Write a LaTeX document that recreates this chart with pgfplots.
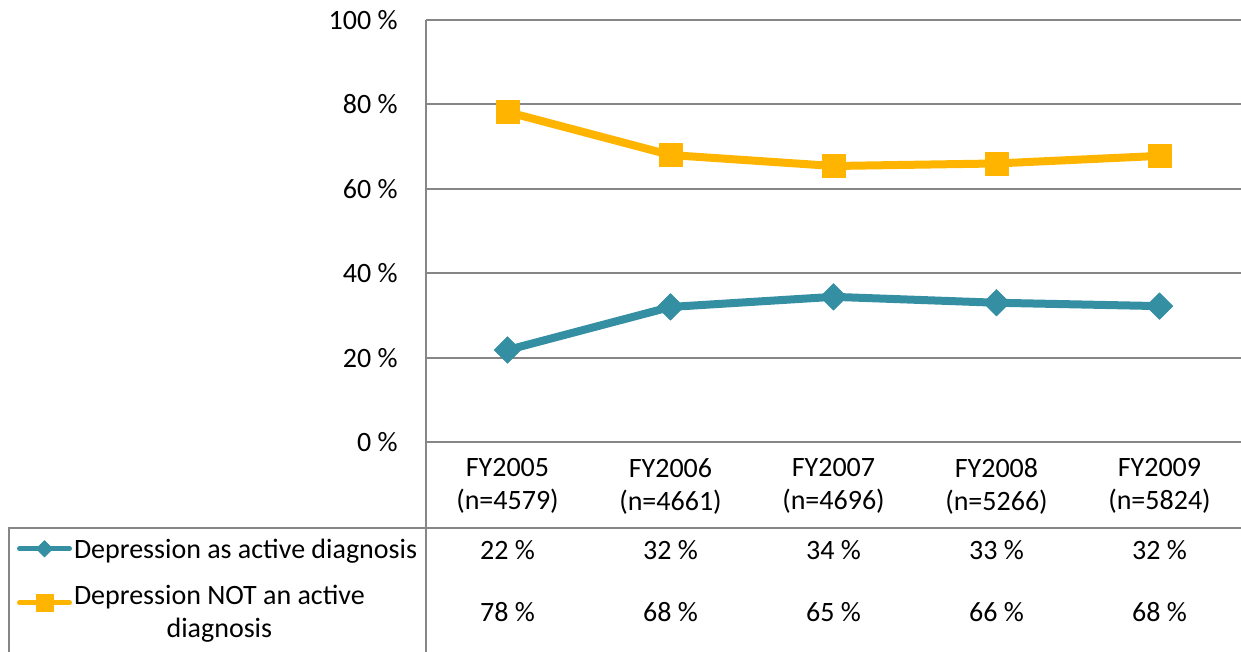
\documentclass[border=0pt]{standalone}
\usepackage{fontspec}
\setmainfont{Carlito}
\usepackage{pgfplots}
\pgfplotsset{compat=1.18}
\definecolor{dteal}{RGB}{53,143,163}
\definecolor{dgold}{RGB}{255,181,0}
\definecolor{gridgray}{RGB}{134,134,134}
\pgfplotsset{
  tealleg/.style={legend image code/.code={\draw[##1, line width=2.5pt, line cap=round, mark size=2.9pt, mark repeat=2, mark phase=2] plot coordinates {(1.25pt,0pt) (13.75pt,0pt) (26.25pt,0pt)};}},
  goldleg/.style={legend image code/.code={\path (0pt,-26.75pt); \draw[##1, line width=2.5pt, line cap=round, mark size=4.25pt, mark repeat=2, mark phase=2] plot coordinates {(1.25pt,0pt) (13.75pt,0pt) (26.25pt,0pt)};}},
}
\begin{document}
\begin{tikzpicture}[font=\fontsize{14}{16.5}\selectfont]
\path[use as bounding box] (-213pt,-105pt) rectangle (407.5pt,221pt);
\begin{axis}[
  at={(0,0)}, anchor=south west,
  scale only axis, width=407.5pt, height=211pt,
  xmin=-0.5, xmax=4.5, ymin=0, ymax=100,
  axis line style={draw=none},
  major tick length=0pt,
  ytick={0,20,...,100},
  yticklabels={0 \%,20 \%,40 \%,60 \%,80 \%,100 \%},
  yticklabel style={inner sep=0pt, xshift=-14pt},
  xtick={0,1,2,3,4},
  xticklabels={{FY2005\\(n=4579)},{FY2006\\(n=4661)},{FY2007\\(n=4696)},{FY2008\\(n=5266)},{FY2009\\(n=5824)}},
  xticklabel style={align=center, inner sep=0pt, yshift=-8pt},
  ymajorgrids, grid style={gridgray, line width=1pt},
  clip=false,
  legend cell align=left,
  legend style={at={(-0.50675,-0.22156)}, anchor=north west, draw=none, fill=none,
    inner sep=0pt, outer sep=0pt, row sep=9.5pt, column sep=1pt, nodes={inner sep=0pt}},
]
\addplot[tealleg, color=dteal, line width=4pt, line join=round, mark=square*, mark size=4.7pt,
  mark options={rotate=45, line width=0.3pt, fill=dteal}]
coordinates {(0,21.8) (1,32.0) (2,34.4) (3,33.0) (4,32.2)};
\addlegendentry{{\begin{tabular}{@{}l@{}}Depression as active diagnosis\end{tabular}}}
\addplot[goldleg, color=dgold, line width=4pt, line join=round, mark=square*, mark size=5.75pt,
  mark options={line width=0.3pt, fill=dgold}]
coordinates {(0,78.2) (1,68.0) (2,65.4) (3,66.0) (4,67.8)};
\addlegendentry{{\begin{tabular}{@{}c@{}}Depression NOT an active\\diagnosis\end{tabular}}}
\end{axis}
\draw[gridgray, line width=1pt] (0,211pt) -- (0,-105pt);
\draw[gridgray, line width=1pt] (-208.25pt,-105pt) -- (-208.25pt,-43pt) -- (407.5pt,-43pt);
\foreach \v [count=\i from 0] in {22,32,34,33,32}
  \node[inner sep=0pt] at ({40.75pt+81.5pt*\i},-54pt) {\v\ \%};
\foreach \v [count=\i from 0] in {78,68,65,66,68}
  \node[inner sep=0pt] at ({40.75pt+81.5pt*\i},-85pt) {\v\ \%};
\end{tikzpicture}
\end{document}
